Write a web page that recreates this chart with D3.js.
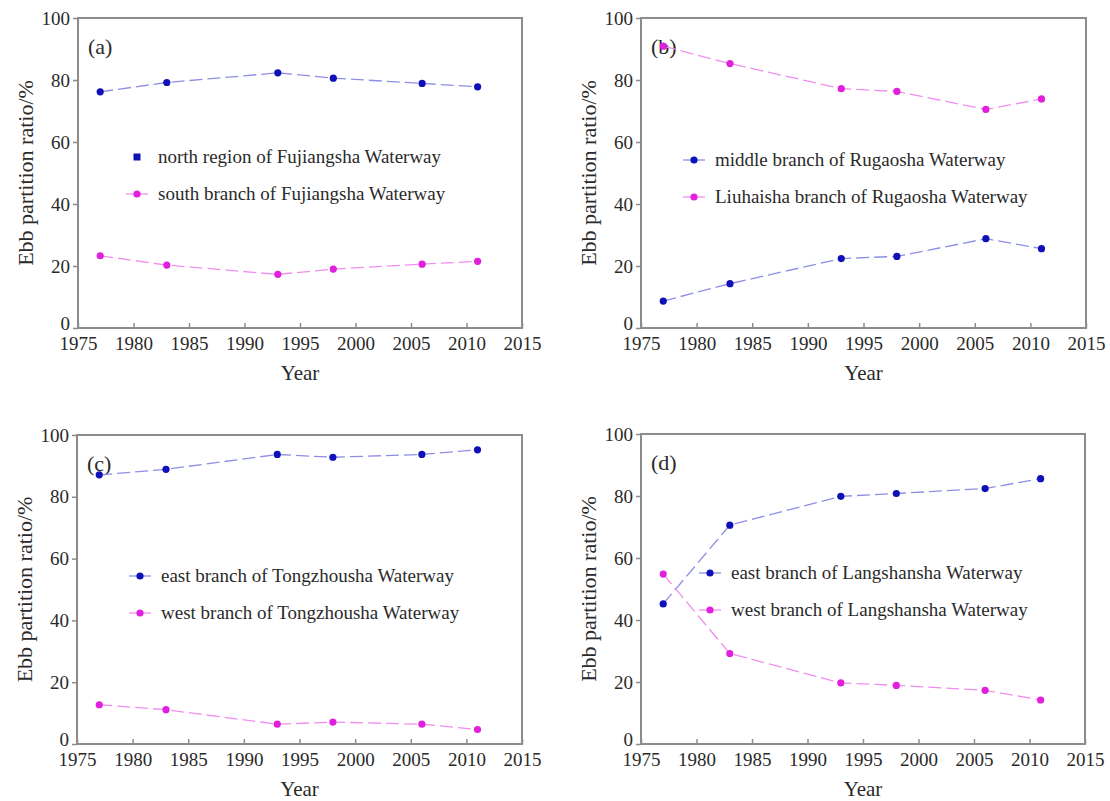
<!DOCTYPE html>
<meta charset="utf-8">
<style>
  body { margin: 0; background: #fff; }
  svg text { font-family: "Liberation Serif", Tinos, "DejaVu Serif", serif; fill: #2a2a2a; }
  .frame { fill: none; stroke: #8c8c8c; stroke-width: 2px; }
  .tick line { stroke: #8c8c8c; stroke-width: 1.5px; }
  .domain { display: none; }
</style>
<body>
<script src="https://cdn.jsdelivr.net/npm/d3@7"></script>
<script>
  // years sampled in every panel
  var years = [1977, 1983, 1993, 1998, 2006, 2011];

  // ebb partition ratio (%)
  var northFujiangsha = [76.2, 79.2, 82.3, 80.6, 78.9, 77.8];
  var southFujiangsha = [23.3, 20.3, 17.3, 19.0, 20.6, 21.5];
  var middleRugaosha = [8.7, 14.3, 22.4, 23.1, 28.8, 25.6];
  var liuhaishaRugaosha = [90.9, 85.3, 77.2, 76.3, 70.5, 73.9];
  var eastTongzhousha = [87.1, 88.9, 93.7, 92.8, 93.7, 95.2];
  var westTongzhousha = [12.7, 11.1, 6.4, 7.1, 6.4, 4.7];
  var eastLangshansha = [45.2, 70.6, 79.9, 80.8, 82.4, 85.6];
  var westLangshansha = [54.8, 29.2, 19.7, 18.9, 17.3, 14.2];

  var xTicks = [1975, 1980, 1985, 1990, 1995, 2000, 2005, 2010, 2015];
  var yTicks = [0, 20, 40, 60, 80, 100];

  var BLUE = "#1010b8", BLUE_LINE = "#8e8ee6";
  var PINK = "#e020dc", PINK_LINE = "#f08ef0";
  var FONT = '"Liberation Serif", Tinos, "DejaVu Serif", serif';

  var panels = [
    { label: "(a)", box: [78, 522, 18, 328], legend: [137, 157],
      series: [
        { name: "north region of Fujiangsha Waterway", values: northFujiangsha, color: BLUE, line: BLUE_LINE, square: true },
        { name: "south branch of Fujiangsha Waterway", values: southFujiangsha, color: PINK, line: PINK_LINE }
      ] },
    { label: "(b)", box: [641, 1086, 18, 328], legend: [694, 160],
      series: [
        { name: "middle branch of Rugaosha Waterway", values: middleRugaosha, color: BLUE, line: BLUE_LINE },
        { name: "Liuhaisha branch of Rugaosha Waterway", values: liuhaishaRugaosha, color: PINK, line: PINK_LINE }
      ] },
    { label: "(c)", box: [77, 522, 435, 744], legend: [140, 576],
      series: [
        { name: "east branch of Tongzhousha Waterway", values: eastTongzhousha, color: BLUE, line: BLUE_LINE },
        { name: "west branch of Tongzhousha Waterway", values: westTongzhousha, color: PINK, line: PINK_LINE }
      ] },
    { label: "(d)", box: [641, 1085, 434, 744], legend: [710, 573],
      series: [
        { name: "east branch of Langshansha Waterway", values: eastLangshansha, color: BLUE, line: BLUE_LINE },
        { name: "west branch of Langshansha Waterway", values: westLangshansha, color: PINK, line: PINK_LINE }
      ] }
  ];

  var svg = d3.select("body").append("svg")
    .attr("width", 1110)
    .attr("height", 801)
    .style("font-family", FONT);

  panels.forEach(function(p) {
    var x0 = p.box[0], x1 = p.box[1], y0 = p.box[2], y1 = p.box[3];
    var x = d3.scaleLinear().domain([1975, 2015]).range([x0, x1]);
    var y = d3.scaleLinear().domain([0, 100]).range([y1, y0]);
    var g = svg.append("g");

    // x axis, ticks pointing into the plot
    var gx = g.append("g")
      .attr("transform", "translate(0," + y1 + ")")
      .call(d3.axisBottom(x).tickValues(xTicks).tickFormat(d3.format("d"))
        .tickSizeInner(-5).tickSizeOuter(0).tickPadding(9));
    gx.attr("font-family", FONT);
    gx.selectAll("text").style("font-size", "19px");

    // y axis, ticks pointing out
    var gy = g.append("g")
      .attr("transform", "translate(" + x0 + ",0)")
      .call(d3.axisLeft(y).tickValues(yTicks).tickSizeInner(5).tickSizeOuter(0).tickPadding(3));
    gy.attr("font-family", FONT);
    gy.selectAll("text").style("font-size", "19px")
      .attr("dy", function(d) { return d === 0 ? "0.1em" : "0.32em"; });

    g.append("rect").attr("class", "frame")
      .attr("x", x0).attr("y", y0)
      .attr("width", x1 - x0).attr("height", y1 - y0);

    g.append("text")
      .attr("x", (x0 + x1) / 2).attr("y", y1 + 52)
      .attr("text-anchor", "middle")
      .style("font-size", "21px")
      .text("Year");

    g.append("text")
      .attr("transform", "translate(" + (x0 - 45) + "," + ((y0 + y1) / 2) + ") rotate(-90)")
      .attr("text-anchor", "middle")
      .style("font-size", "22px")
      .text("Ebb partition ratio/%");

    g.append("text")
      .attr("x", x0 + 10).attr("y", y0 + 36)
      .style("font-size", "22px")
      .text(p.label);

    var line = d3.line()
      .x(function(d, i) { return x(years[i]); })
      .y(function(d) { return y(d); });

    p.series.forEach(function(s, k) {
      g.append("path")
        .datum(s.values)
        .attr("d", line)
        .attr("fill", "none")
        .attr("stroke", s.line)
        .attr("stroke-width", 1.3)
        .attr("stroke-dasharray", "13,5");

      g.selectAll(null)
        .data(s.values)
        .enter().append("circle")
        .attr("cx", function(d, i) { return x(years[i]); })
        .attr("cy", function(d) { return y(d); })
        .attr("r", 3.6)
        .attr("fill", s.color);

      // legend entry
      var lx = p.legend[0], ly = p.legend[1] + k * 37;
      if (!s.square) {
        g.append("line")
          .attr("x1", lx - 11).attr("x2", lx + 11)
          .attr("y1", ly).attr("y2", ly)
          .attr("stroke", s.line).attr("stroke-width", 1.3);
        g.append("circle").attr("cx", lx).attr("cy", ly).attr("r", 3.6).attr("fill", s.color);
      } else {
        g.append("rect").attr("x", lx - 3.5).attr("y", ly - 3.5)
          .attr("width", 7).attr("height", 7).attr("fill", s.color);
      }
      g.append("text")
        .attr("x", lx + 21).attr("y", ly)
        .attr("dy", "0.33em")
        .style("font-size", "19px")
        .text(s.name);
    });
  });
</script>
</body>
